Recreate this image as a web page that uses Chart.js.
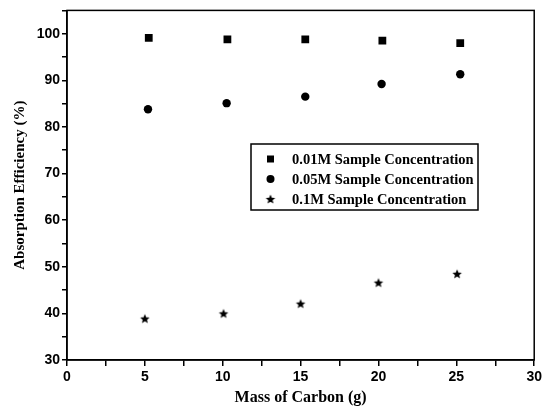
<!DOCTYPE html>
<html lang="en">
<head>
<meta charset="UTF-8">
<title>Absorption Efficiency vs Mass of Carbon</title>
<script src="https://cdn.jsdelivr.net/npm/chart.js"></script>
<style>
  html, body { margin: 0; padding: 0; background: #fff; }
  #wrap { width: 545px; height: 407px; }
</style>
</head>
<body>
<div id="wrap"><canvas id="absChart" width="545" height="407"></canvas></div>
<script>
// values
const seriesNames = ['0.01M Sample Concentration', '0.05M Sample Concentration', '0.1M Sample Concentration'];
const massLow = [5.25, 10.3, 15.3, 20.25, 25.25];   // squares
const effLow = [99.1, 98.8, 98.8, 98.5, 98.0];
const massMid = [5.2, 10.25, 15.3, 20.2, 25.25];    // circles
const effMid = [83.8, 85.1, 86.5, 89.2, 91.3];
const massHigh = [5.0, 10.05, 15.0, 20.0, 25.05];   // stars
const effHigh = [38.9, 40.0, 42.1, 46.6, 48.5];

const pairs = (xs, ys) => xs.map((x, i) => ({ x: x, y: ys[i] }));

// filled five point star, used as point style
function makeStar(r) {
  const c = document.createElement('canvas');
  c.width = c.height = Math.ceil(r * 2) + 2;
  const g = c.getContext('2d');
  const cx = c.width / 2, cy = c.height / 2 + 0.5;
  g.beginPath();
  for (let i = 0; i < 10; i++) {
    const rad = i % 2 === 0 ? r : r * 0.45;
    const a = -Math.PI / 2 + i * Math.PI / 5;
    g.lineTo(cx + rad * Math.cos(a), cy + rad * Math.sin(a));
  }
  g.closePath();
  g.fillStyle = '#000';
  g.fill();
  return c;
}
const star = makeStar(5);

// box around plot + legend inside the plot
const framePlugin = {
  id: 'frame',
  afterDraw(chart) {
    const { ctx, chartArea: a } = chart;
    ctx.save();
    ctx.strokeStyle = '#000';
    ctx.lineWidth = 1.5;
    ctx.strokeRect(a.left, a.top, a.right - a.left, a.bottom - a.top);

    // legend
    const bx = 251, by = 144, bw = 227, bh = 66;
    ctx.fillStyle = '#fff';
    ctx.fillRect(bx, by, bw, bh);
    ctx.strokeRect(bx, by, bw, bh);
    const rows = [159, 179, 199];
    ctx.fillStyle = '#000';
    ctx.font = 'bold 14.5px "Liberation Serif", "Times New Roman", serif';
    ctx.textBaseline = 'middle';
    chart.data.datasets.forEach((ds, i) => {
      const y = rows[i];
      if (ds.pointStyle === 'rect') {
        ctx.fillRect(267, y - 3.5, 7, 7);
      } else if (ds.pointStyle === 'circle') {
        ctx.beginPath();
        ctx.arc(270.5, y, 4, 0, Math.PI * 2);
        ctx.fill();
      } else {
        ctx.drawImage(ds.pointStyle, 270.5 - ds.pointStyle.width / 2, y - ds.pointStyle.height / 2);
      }
      ctx.fillText(ds.label, 292, y + 1);
    });
    ctx.restore();
  }
};

const ctx = document.getElementById('absChart').getContext('2d');
new Chart(ctx, {
  type: 'scatter',
  data: {
    datasets: [
      { label: seriesNames[0], data: pairs(massLow, effLow), pointStyle: 'rect', pointRadius: 5.5,
        backgroundColor: '#000', borderColor: '#000', borderWidth: 0 },
      { label: seriesNames[1], data: pairs(massMid, effMid), pointStyle: 'circle', pointRadius: 4.2,
        backgroundColor: '#000', borderColor: '#000', borderWidth: 0 },
      { label: seriesNames[2], data: pairs(massHigh, effHigh), pointStyle: star, pointRadius: 5,
        backgroundColor: '#000', borderColor: '#000', borderWidth: 0 }
    ]
  },
  options: {
    responsive: false,
    animation: false,
    layout: { padding: { top: 8, right: 7, left: 0, bottom: 0 } },
    plugins: { legend: { display: false }, tooltip: { enabled: false } },
    scales: {
      x: {
        type: 'linear', min: 0, max: 30,
        afterFit(s) { s.height = 47; },
        ticks: {
          stepSize: 2.5, padding: 3, color: '#000',
          font: { family: '"Liberation Sans", Arial, sans-serif', size: 14, weight: 'bold' },
          callback: v => (v % 5 === 0 ? v : '')
        },
        grid: { drawOnChartArea: false, drawTicks: true, tickLength: 6, color: '#000', lineWidth: 1.5 },
        border: { display: true, color: '#000', width: 1.5 },
        title: {
          display: true, text: 'Mass of Carbon (g)', color: '#000',
          font: { family: '"Liberation Serif", "Times New Roman", serif', size: 16, weight: 'bold' },
          padding: { top: 0, bottom: 0 }
        }
      },
      y: {
        type: 'linear', min: 30, max: 105,
        afterFit(s) { s.width = 67; },
        ticks: {
          stepSize: 5, padding: 2, color: '#000',
          font: { family: '"Liberation Sans", Arial, sans-serif', size: 14, weight: 'bold' },
          callback: v => (v % 10 === 0 ? v : '')
        },
        grid: { drawOnChartArea: false, drawTicks: true, tickLength: 5, color: '#000', lineWidth: 1.5 },
        border: { display: true, color: '#000', width: 1.5 },
        title: {
          display: true, text: 'Absorption Efficiency (%)', color: '#000',
          font: { family: '"Liberation Serif", "Times New Roman", serif', size: 15, weight: 'bold' },
          padding: { top: 11, bottom: 0 }
        }
      }
    }
  },
  plugins: [framePlugin]
});
</script>
</body>
</html>
